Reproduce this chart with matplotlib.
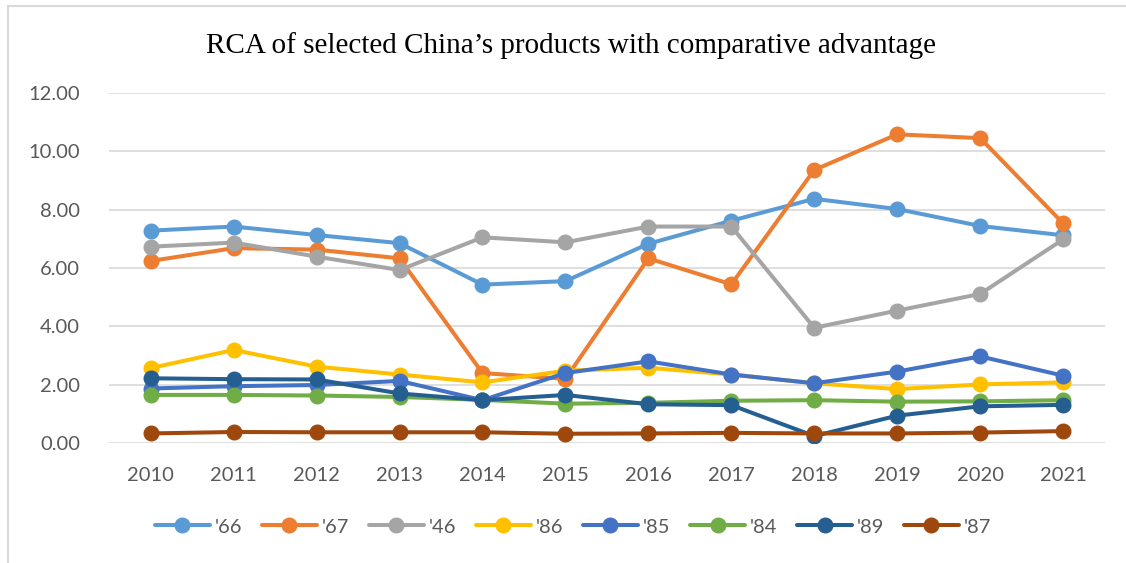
import matplotlib
matplotlib.use("Agg")
import matplotlib.pyplot as plt
from matplotlib.patches import Rectangle

years = [2010, 2011, 2012, 2013, 2014, 2015, 2016, 2017, 2018, 2019, 2020, 2021]

rca_66 = [7.28, 7.42, 7.13, 6.85, 5.43, 5.55, 6.83, 7.62, 8.37, 8.02, 7.44, 7.12]
rca_67 = [6.24, 6.68, 6.63, 6.33, 2.40, 2.20, 6.33, 5.44, 9.36, 10.58, 10.45, 7.53]
rca_46 = [6.73, 6.87, 6.39, 5.93, 7.05, 6.88, 7.42, 7.42, 3.95, 4.54, 5.11, 6.98]
rca_86 = [2.57, 3.19, 2.62, 2.35, 2.08, 2.48, 2.58, 2.35, 2.05, 1.85, 2.01, 2.08]
rca_85 = [1.87, 1.95, 1.99, 2.13, 1.47, 2.40, 2.80, 2.35, 2.05, 2.45, 2.97, 2.31]
rca_84 = [1.65, 1.65, 1.63, 1.58, 1.48, 1.35, 1.38, 1.45, 1.47, 1.42, 1.43, 1.47]
rca_89 = [2.22, 2.19, 2.18, 1.70, 1.47, 1.65, 1.33, 1.30, 0.24, 0.94, 1.26, 1.31]
rca_87 = [0.33, 0.38, 0.37, 0.37, 0.37, 0.32, 0.33, 0.35, 0.33, 0.33, 0.36, 0.41]

labels = ["'66", "'67", "'46", "'86", "'85", "'84", "'89", "'87"]
series = [rca_66, rca_67, rca_46, rca_86, rca_85, rca_84, rca_89, rca_87]
colors = ["#5B9BD5", "#ED7D31", "#A5A5A5", "#FFC000",
          "#4472C4", "#70AD47", "#255E91", "#9E480E"]

plt.rcParams['font.family'] = ['Lato', 'DejaVu Sans']

fig = plt.figure(figsize=(11.26, 5.63), dpi=100)
ax = fig.add_axes([0.097, 0.213, 0.884, 0.622])

x = list(range(len(years)))
for vals, lab, col in zip(series, labels, colors):
    ax.plot(x, vals, color=col, lw=2.9, marker='o', markersize=10.5,
            solid_capstyle='round', label=lab)

ax.set_xlim(-0.5, len(years) - 0.5)
ax.set_ylim(0, 12)
ax.set_yticks([0, 2, 4, 6, 8, 10, 12])
ax.set_yticklabels(['%.2f' % v for v in [0, 2, 4, 6, 8, 10, 12]])
ax.set_xticks(x)
ax.set_xticklabels([str(y) for y in years])
ax.grid(axis='y', color='#D9D9D9', lw=1.2)
ax.set_axisbelow(True)
for s in ax.spines.values():
    s.set_visible(False)
ax.tick_params(length=0, labelsize=14.5, colors='#595959')
ax.tick_params(axis='y', pad=21)
ax.tick_params(axis='x', pad=17)

fig.text(0.507, 0.92, "RCA of selected China\u2019s products with comparative advantage",
         ha='center', va='center', fontsize=21, family=['Liberation Serif', 'DejaVu Serif'])

leg = fig.legend(loc='center', bbox_to_anchor=(0.509, 0.064), ncol=8, frameon=False,
                 fontsize=14.5, handlelength=2.7, handletextpad=0.25, columnspacing=1.0,
                 labelcolor='#595959')

# chart area border
fig.patches.append(Rectangle((8 / 1126, -0.1), 1.2, 1.1 - 6 / 563,
                             transform=fig.transFigure, fill=False,
                             edgecolor='#D9D9D9', lw=1.5))

fig.savefig('out.png', dpi=100)
